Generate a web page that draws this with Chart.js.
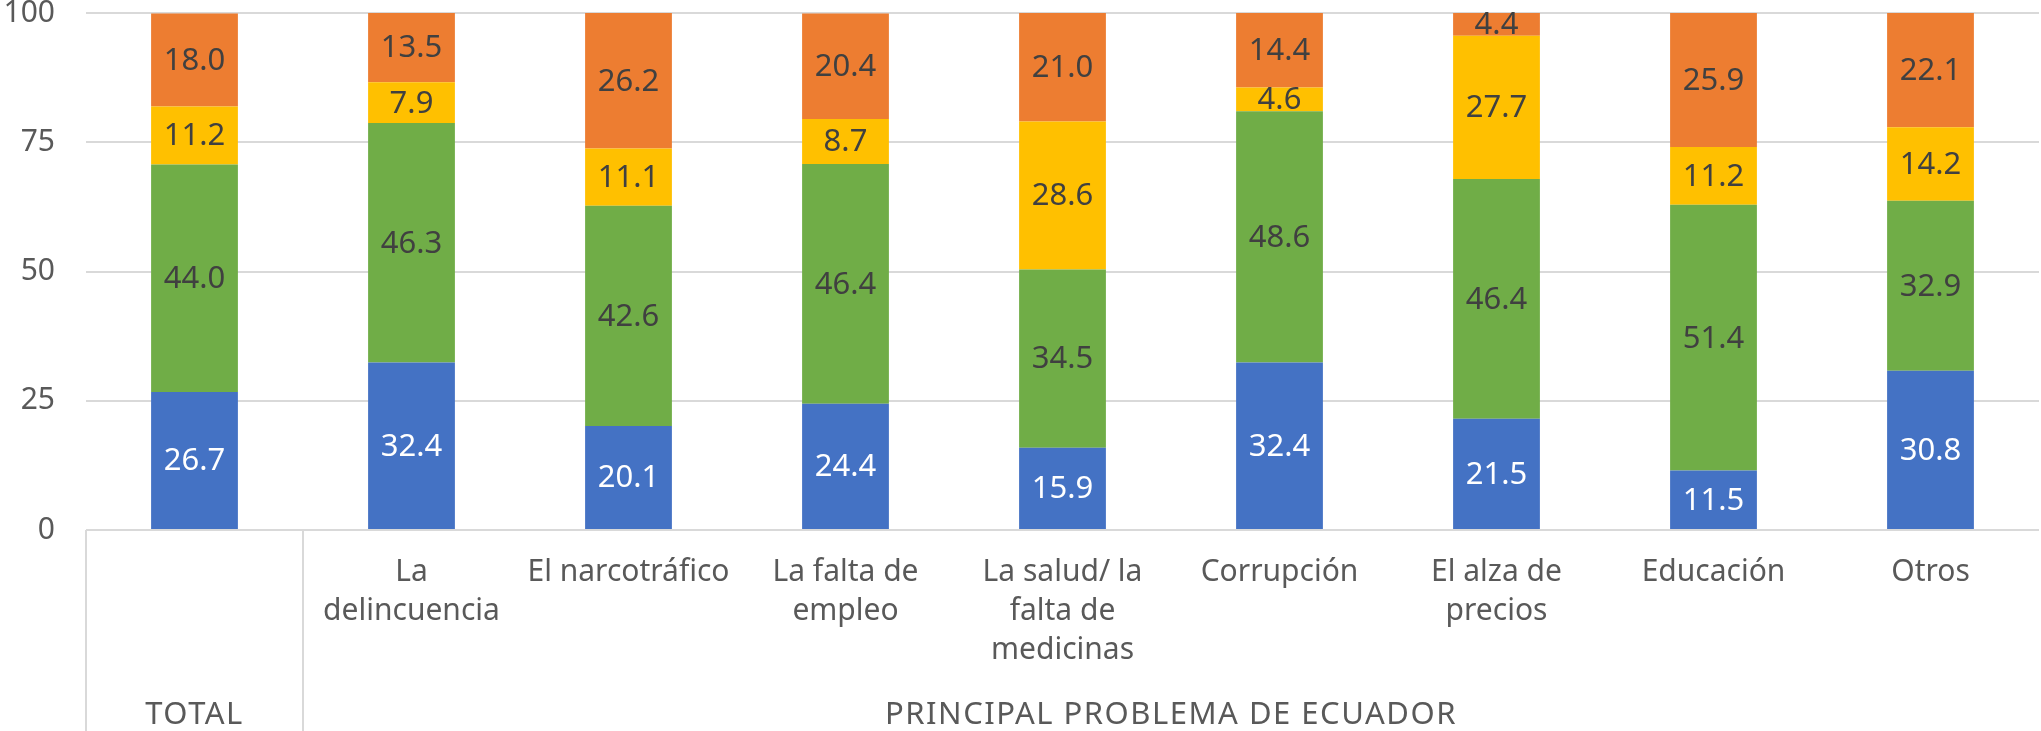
<!DOCTYPE html>
<html>
<head>
<meta charset="utf-8">
<script src="https://cdn.jsdelivr.net/npm/chart.js@4/dist/chart.umd.min.js"></script>
<style>
html,body{margin:0;padding:0;background:#fff;}
#wrap{width:2041px;height:731px;position:relative;}
</style>
</head>
<body>
<div id="wrap"><canvas id="c" width="2041" height="731"></canvas></div>
<script>
const categories = ['TOTAL','La delincuencia','El narcotráfico','La falta de empleo','La salud/ la falta de medicinas','Corrupción','El alza de precios','Educación','Otros'];
const tickLabels = ['', ['La','delincuencia'], 'El narcotráfico', ['La falta de','empleo'], ['La salud/ la','falta de','medicinas'], 'Corrupción', ['El alza de','precios'], 'Educación', 'Otros'];
const groupLabels = ['TOTAL','PRINCIPAL PROBLEMA DE ECUADOR'];
const groupSizes = [1, 8];
const serie1 = [26.7, 32.4, 20.1, 24.4, 15.9, 32.4, 21.5, 11.5, 30.8];
const serie2 = [44.0, 46.3, 42.6, 46.4, 34.5, 48.6, 46.4, 51.4, 32.9];
const serie3 = [11.2, 7.9, 11.1, 8.7, 28.6, 4.6, 27.7, 11.2, 14.2];
const serie4 = [18.0, 13.5, 26.2, 20.4, 21.0, 14.4, 4.4, 25.9, 22.1];
const yTicks = [0, 25, 50, 75, 100];

const FONT = "'Noto Sans', sans-serif";
const colors = ['#4472C4','#70AD47','#FFC000','#ED7D31'];
const labelColors = ['#ffffff','#404040','#404040','#404040'];

const dataLabelPlugin = {
  id:'dl',
  afterDatasetsDraw(chart){
    const ctx = chart.ctx;
    ctx.save();
    ctx.font = "31px " + FONT;
    ctx.textAlign = 'center';
    ctx.textBaseline = 'middle';
    chart.data.datasets.forEach((ds, di) => {
      const meta = chart.getDatasetMeta(di);
      meta.data.forEach((el, i) => {
        const v = ds.data[i];
        const yc = (el.y + el.base) / 2;
        ctx.fillStyle = labelColors[di];
        ctx.fillText(v.toFixed(1), el.x, yc + 1);
      });
    });
    ctx.restore();
  }
};

const tablePlugin = {
  id:'tbl',
  afterDraw(chart){
    const ctx = chart.ctx;
    const area = chart.chartArea;
    const bottom = chart.height;
    const step = (area.right - area.left) / categories.length;
    ctx.save();
    ctx.strokeStyle = '#d9d9d9';
    ctx.lineWidth = 2;
    let start = 0;
    const bounds = [];
    groupSizes.forEach((n) => {
      const x0 = area.left + start * step;
      const x1 = area.left + (start + n) * step;
      bounds.push([x0, x1]);
      start += n;
    });
    ctx.beginPath();
    bounds.forEach(([x0]) => {
      ctx.moveTo(Math.round(x0), area.bottom);
      ctx.lineTo(Math.round(x0), bottom);
    });
    ctx.stroke();
    ctx.fillStyle = '#595959';
    ctx.font = "31px " + FONT;
    try { ctx.letterSpacing = '1.5px'; } catch (e) {}
    ctx.textAlign = 'center';
    ctx.textBaseline = 'middle';
    bounds.forEach(([x0, x1], gi) => {
      ctx.fillText(groupLabels[gi], (x0 + x1) / 2, 715);
    });
    ctx.restore();
  }
};

new Chart(document.getElementById('c'), {
  type:'bar',
  data:{
    labels: tickLabels,
    datasets:[serie1, serie2, serie3, serie4].map((d, i) => ({
      label:'Serie ' + (i + 1),
      data:d,
      backgroundColor:colors[i],
      borderWidth:0,
      barPercentage:0.4,
      categoryPercentage:1.0
    }))
  },
  options:{
    responsive:false,
    animation:false,
    events:[],
    layout:{padding:{top:13, right:2, left:0, bottom:0}},
    plugins:{legend:{display:false}, tooltip:{enabled:false}},
    scales:{
      x:{
        stacked:true,
        grid:{display:false, drawTicks:false},
        border:{display:false},
        ticks:{
          color:'#595959',
          font:{family:FONT, size:30, lineHeight:1.3},
          padding:23,
          maxRotation:0,
          autoSkip:false
        },
        afterFit(scale){ scale.height = 201; scale.paddingTop = 0; scale.paddingLeft = 0; scale.paddingRight = 0; }
      },
      y:{
        stacked:true,
        min:0, max:100,
        afterBuildTicks(scale){ scale.ticks = yTicks.map(v => ({value:v})); },
        grid:{color:'#d9d9d9', lineWidth:2, drawTicks:false},
        border:{display:false},
        ticks:{
          color:'#595959',
          font:{family:FONT, size:30},
          padding:31
        },
        afterFit(scale){ scale.width = 86; scale.paddingTop = 0; scale.paddingBottom = 0; }
      }
    }
  },
  plugins:[dataLabelPlugin, tablePlugin]
});
</script>
</body>
</html>
